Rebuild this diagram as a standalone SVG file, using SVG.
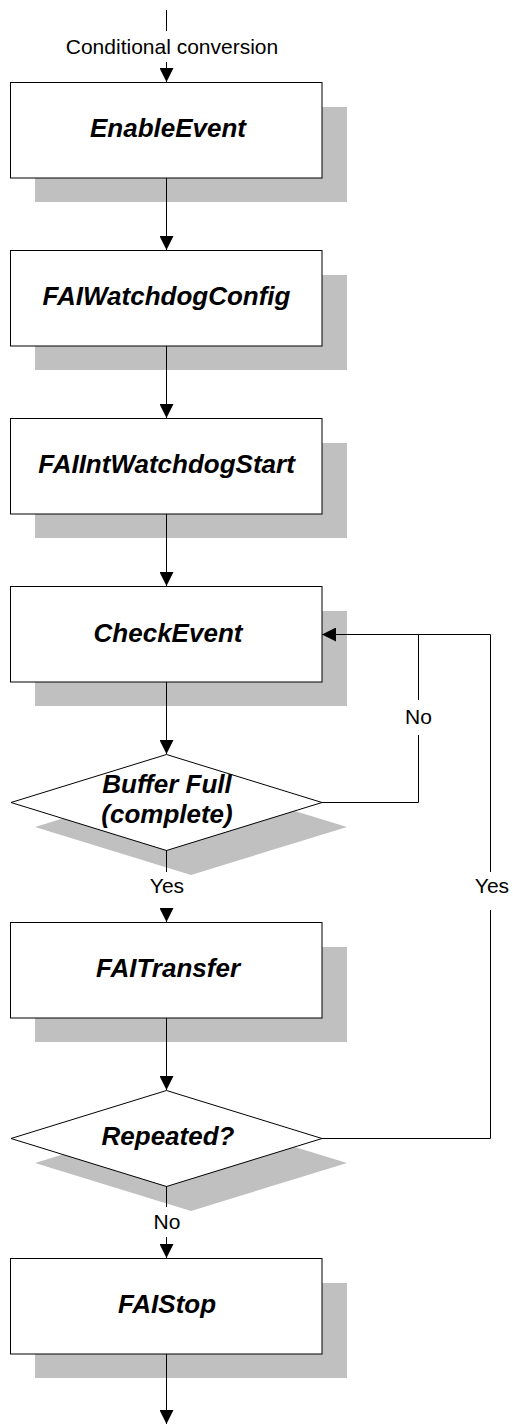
<svg xmlns="http://www.w3.org/2000/svg" width="513" height="1426" viewBox="0 0 513 1426">
<style>
.sh{fill:#c0c0c0;stroke:none}
.bx{fill:#fff;stroke:#000;stroke-width:1}
.t{font-family:"Liberation Sans",Arial,sans-serif;font-weight:bold;font-style:italic;font-size:26px;fill:#000;text-anchor:middle}
.l{font-family:"Liberation Sans",Arial,sans-serif;font-size:21px;fill:#000;text-anchor:middle}
.c{fill:none;stroke:#000;stroke-width:1}
</style>
<defs>
<marker id="ah" markerWidth="14" markerHeight="14" refX="14" refY="7" orient="auto" markerUnits="userSpaceOnUse">
<path d="M0,0 L14,7 L0,14 Z" fill="#000"/>
</marker>
</defs>
<rect width="513" height="1426" fill="#fff"/>
<g id="EnableEvent">
<rect class="sh" x="35" y="107" width="312" height="95"/>
<rect class="bx" x="10.5" y="82.5" width="311.5" height="95.5"/>
<text class="t" x="168" y="137">EnableEvent</text>
</g>
<g id="FAIWatchdogConfig">
<rect class="sh" x="35" y="275" width="312" height="95"/>
<rect class="bx" x="10.5" y="250.5" width="311.5" height="95.5"/>
<text class="t" x="166.5" y="305">FAIWatchdogConfig</text>
</g>
<g id="FAIIntWatchdogStart">
<rect class="sh" x="35" y="443" width="312" height="95"/>
<rect class="bx" x="10.5" y="418.5" width="311.5" height="95.5"/>
<text class="t" x="166.5" y="473">FAIIntWatchdogStart</text>
</g>
<g id="CheckEvent">
<rect class="sh" x="35" y="611" width="312" height="95"/>
<rect class="bx" x="10.5" y="586.5" width="311.5" height="95.5"/>
<text class="t" x="168" y="642">CheckEvent</text>
</g>
<g id="BufferFull">
<polygon class="sh" points="191,779 347,827 191,875 35,827"/>
<polygon class="bx" points="166.5,754.5 322,802.5 166.5,850.5 11,802.5"/>
<text class="t" x="167" y="793">Buffer Full</text>
<text class="t" x="167" y="823">(complete)</text>
</g>
<g id="FAITransfer">
<rect class="sh" x="35" y="947" width="312" height="95"/>
<rect class="bx" x="10.5" y="922.5" width="311.5" height="95.5"/>
<text class="t" x="168" y="977">FAITransfer</text>
</g>
<g id="Repeated">
<polygon class="sh" points="191,1115 347,1163 191,1211 35,1163"/>
<polygon class="bx" points="166.5,1090.5 322,1138.5 166.5,1186.5 11,1138.5"/>
<text class="t" x="168" y="1145">Repeated?</text>
</g>
<g id="FAIStop">
<rect class="sh" x="35" y="1283" width="312" height="95"/>
<rect class="bx" x="10.5" y="1258.5" width="311.5" height="95.5"/>
<text class="t" x="167" y="1313">FAIStop</text>
</g>
<g id="connectors">
<line class="c" x1="166.5" y1="10" x2="166.5" y2="31"/>
<line class="c" x1="166.5" y1="62" x2="166.5" y2="82" marker-end="url(#ah)"/>
<text class="l" x="172" y="54">Conditional conversion</text>
<line class="c" x1="166.5" y1="178" x2="166.5" y2="250" marker-end="url(#ah)"/>
<line class="c" x1="166.5" y1="346" x2="166.5" y2="418" marker-end="url(#ah)"/>
<line class="c" x1="166.5" y1="514" x2="166.5" y2="586" marker-end="url(#ah)"/>
<line class="c" x1="166.5" y1="682" x2="166.5" y2="754" marker-end="url(#ah)"/>
<line class="c" x1="166.5" y1="850" x2="166.5" y2="872"/>
<text class="l" x="167" y="893">Yes</text>
<line class="c" x1="166.5" y1="909" x2="166.5" y2="922" marker-end="url(#ah)"/>
<line class="c" x1="166.5" y1="1018" x2="166.5" y2="1090" marker-end="url(#ah)"/>
<line class="c" x1="166.5" y1="1186" x2="166.5" y2="1207"/>
<text class="l" x="167" y="1229">No</text>
<line class="c" x1="166.5" y1="1237" x2="166.5" y2="1258" marker-end="url(#ah)"/>
<line class="c" x1="166.5" y1="1354" x2="166.5" y2="1424" marker-end="url(#ah)"/>
<polyline class="c" points="322,802.5 418.5,802.5 418.5,735"/>
<line class="c" x1="418.5" y1="700" x2="418.5" y2="634.5"/>
<text class="l" x="418.5" y="724">No</text>
<polyline class="c" points="322,1138.5 490.5,1138.5 490.5,910"/>
<polyline class="c" points="490.5,872 490.5,634.5 322,634.5" marker-end="url(#ah)"/>
<text class="l" x="492" y="893">Yes</text>
</g>
</svg>
